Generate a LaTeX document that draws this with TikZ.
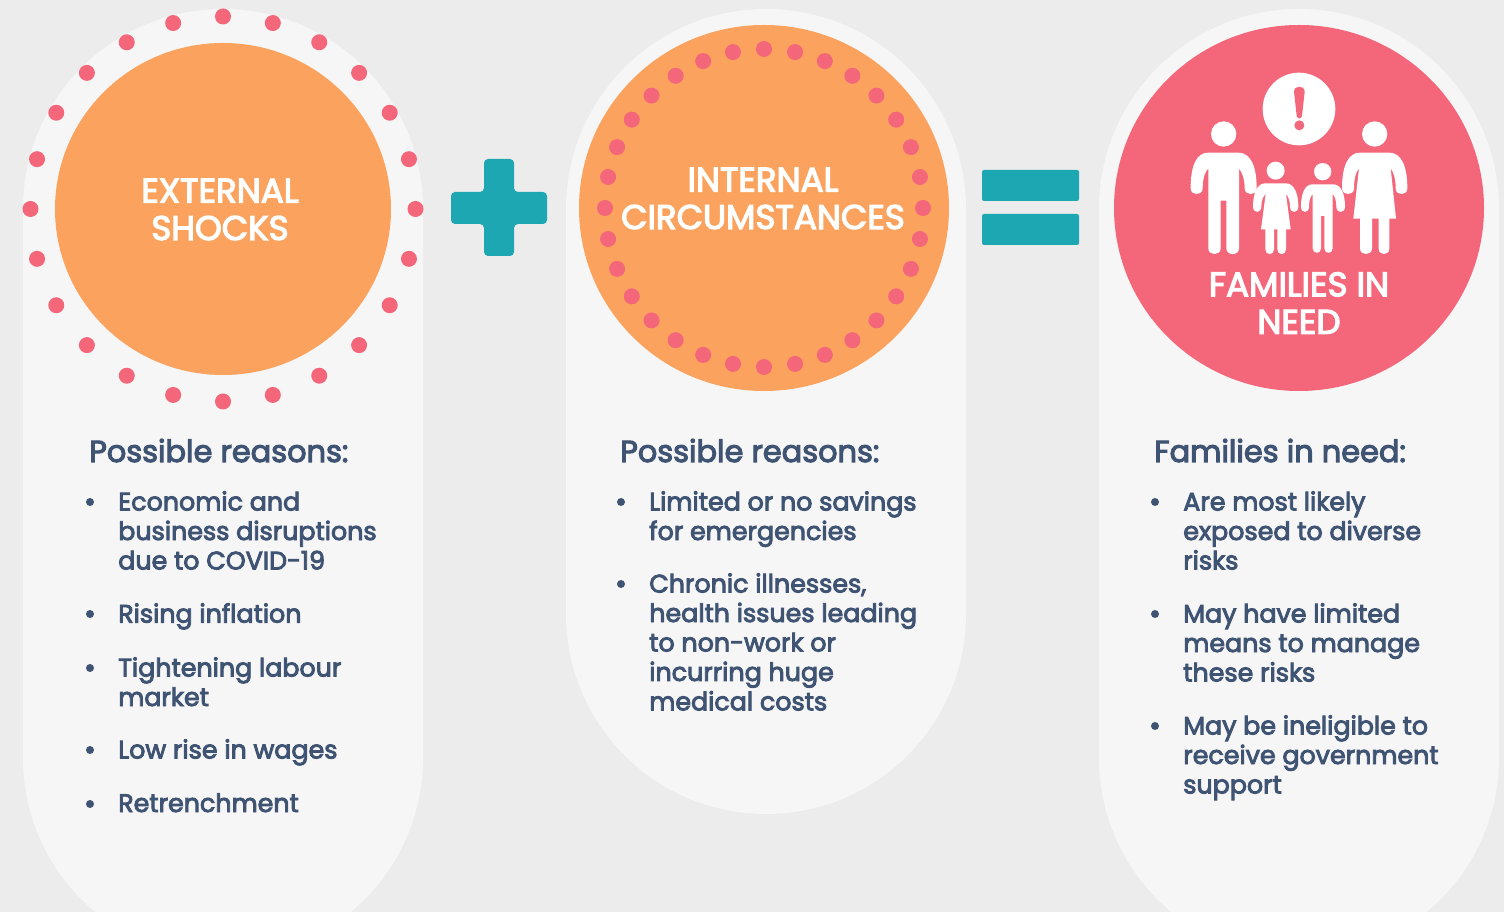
\documentclass[tikz,border=0pt]{standalone}
\usepackage{fontspec}
\setmainfont{Poppins}
\usetikzlibrary{shapes.geometric,calc}
\definecolor{paper}{HTML}{ECECEC}
\definecolor{pill}{HTML}{F6F6F6}
\definecolor{orange}{HTML}{FBA35E}
\definecolor{rose}{HTML}{F4667A}
\definecolor{teal}{HTML}{1DA7B3}
\definecolor{ink}{HTML}{3F5373}
\tikzset{
  disc/.style={ellipse,fill=#1,inner sep=0pt},
  dot/.style={circle,fill=rose,minimum size=12pt,inner sep=0pt},
  title/.style={text=white,align=center,font=\fontsize{25.6}{28}\selectfont\addfontfeatures{FakeBold=3.5},inner sep=0pt},
  head/.style={text=ink,anchor=base west,font=\fontsize{22.8}{27}\selectfont\addfontfeatures{FakeBold=3.5},inner sep=0pt},
  reason/.style={text=ink,anchor=north west,align=left,inner sep=0pt,font=\fontsize{19}{22.1}\selectfont\addfontfeatures{FakeBold=3.5}},
  bullet/.style={circle,fill=ink,minimum size=6pt,inner sep=0pt},
}
\begin{document}
\begin{tikzpicture}[x=0.75pt,y=-0.75pt]
\useasboundingbox (0,0) rectangle (1504,912);
\clip (0,0) rectangle (1504,912);
\fill[paper] (0,0) rectangle (1504,912);
% pills
\fill[pill] (23,958) [rounded corners=150pt] -- (23,9) -- (423,9) -- (423,958) -- cycle;
\fill[pill] (566,814) [rounded corners=150pt] -- (566,9) -- (966,9) -- (966,814) -- cycle;
\fill[pill] (1099,958) [rounded corners=150pt] -- (1099,9) -- (1499,9) -- (1499,958) -- cycle;
% discs
\node[disc=orange,minimum width=252pt,minimum height=249pt] (ext) at (223,209) {};
\node[disc=orange,minimum width=277.5pt,minimum height=274.5pt] (int) at (764,208) {};
\node[disc=rose,minimum width=277.5pt,minimum height=274.5pt] (fam) at (1299,208) {};
\foreach \a in {0,15,...,345}
  \node[dot] at ($(ext)+(\a:192.5)$) {};
\foreach \a in {0,11.25,...,349}
  \node[dot] at ($(int)+(\a:159)$) {};
\node[title] (extlabel) at (220,209.5) {EXTERNAL\\SHOCKS};
\node[title] (intlabel) at (763,198.5) {INTERNAL\\CIRCUMSTANCES};
\node[title] (famlabel) at (1299,303) {FAMILIES IN\\NEED};
% plus and equals
\fill[teal,rounded corners=3pt] (484,159) -- (514,159) -- (514,192) -- (547,192) -- (547,224) -- (514,224) -- (514,256) -- (484,256) -- (484,224) -- (451,224) -- (451,192) -- (484,192) -- cycle;
\fill[teal,rounded corners=1.5pt] (982,170) rectangle (1079,201);
\fill[teal,rounded corners=1.5pt] (982,214) rectangle (1079,245);
% family icon
\begin{scope}[shift={(1150,50)},x=0.25pt,y=-0.25pt,white]
  \fill (447,177) circle[radius=109];
  \fill[rose] (432,125) .. controls (432,105) and (464,105) .. (464,125) -- (456,197) .. controls (455,208) and (441,208) .. (440,197) -- cycle;
  \fill[rose] (448,226) circle[radius=15];
  % father
  \fill (221,252) circle[radius=38];
  \fill (175,308) -- (265,308) .. controls (300,308) and (320,345) .. (320,415) .. controls (320,438) and (284,438) .. (284,415) .. controls (284,385) and (275,365) .. (267,355) -- (267,595) .. controls (267,618) and (229,618) .. (229,595) -- (229,452) -- (212,452) -- (212,595) .. controls (212,618) and (175,618) .. (175,595) -- (175,355) .. controls (165,365) and (158,385) .. (158,415) .. controls (158,438) and (122,438) .. (122,415) .. controls (122,345) and (140,308) .. (175,308) -- cycle;
  % mother
  \fill (674,252) circle[radius=38];
  \fill (630,308) -- (718,308) .. controls (752,308) and (772,345) .. (772,415) .. controls (772,438) and (737,438) .. (737,415) .. controls (737,385) and (730,365) .. (722,355) -- (738,506) -- (718,506) -- (718,595) .. controls (718,618) and (686,618) .. (686,595) -- (686,506) -- (666,506) -- (666,595) .. controls (666,618) and (630,618) .. (630,595) -- (630,506) -- (610,506) -- (627,355) .. controls (618,365) and (612,385) .. (612,415) .. controls (612,438) and (576,438) .. (576,415) .. controls (576,345) and (596,308) .. (630,308) -- cycle;
  % girl
  \fill (377,362) circle[radius=27];
  \fill (345,400) -- (408,400) .. controls (432,400) and (445,430) .. (445,470) .. controls (445,491) and (420,491) .. (420,470) .. controls (420,450) and (414,438) .. (408,432) -- (422,538) -- (408,538) -- (408,598) .. controls (408,617) and (382,617) .. (382,598) -- (382,538) -- (372,538) -- (372,598) .. controls (372,617) and (346,617) .. (346,598) -- (346,538) -- (333,538) -- (347,432) .. controls (340,438) and (334,450) .. (334,470) .. controls (334,491) and (309,491) .. (309,470) .. controls (309,430) and (322,400) .. (345,400) -- cycle;
  % boy
  \fill (518,365) circle[radius=26];
  \fill (487,403) -- (550,403) .. controls (572,403) and (585,430) .. (585,470) .. controls (585,491) and (559,491) .. (559,470) .. controls (559,450) and (554,438) .. (548,432) -- (548,595) .. controls (548,613) and (523,613) .. (523,595) -- (523,498) -- (513,498) -- (513,595) .. controls (513,613) and (488,613) .. (488,595) -- (488,432) .. controls (482,438) and (477,450) .. (477,470) .. controls (477,491) and (453,491) .. (453,470) .. controls (453,430) and (465,403) .. (487,403) -- cycle;
\end{scope}
% first column
\node[head] (head1) at (89,462) {Possible reasons:};
\foreach \y/\t in {
  491/{Economic and\\business disruptions\\due to COVID-19},
  603/{Rising inflation},
  657/{Tightening labour\\market},
  739/{Low rise in wages},
  793/{Retrenchment}}{
  \node[reason] at (118,\y) {\t};
  \node[bullet] at (90,\y+11) {};
}
% second column
\node[head] (head2) at (620,462) {Possible reasons:};
\foreach \y/\t in {
  491/{Limited or no savings\\for emergencies},
  573/{Chronic illnesses,\\health issues leading\\to non-work or\\incurring huge\\medical costs}}{
  \node[reason] at (649,\y) {\t};
  \node[bullet] at (621,\y+11) {};
}
% third column
\node[head] (head3) at (1154,462) {Families in need:};
\foreach \y/\t in {
  491/{Are most likely\\exposed to diverse\\risks},
  603/{May have limited\\means to manage\\these risks},
  715/{May be ineligible to\\receive government\\support}}{
  \node[reason] at (1183,\y) {\t};
  \node[bullet] at (1155,\y+11) {};
}
\end{tikzpicture}
\end{document}
